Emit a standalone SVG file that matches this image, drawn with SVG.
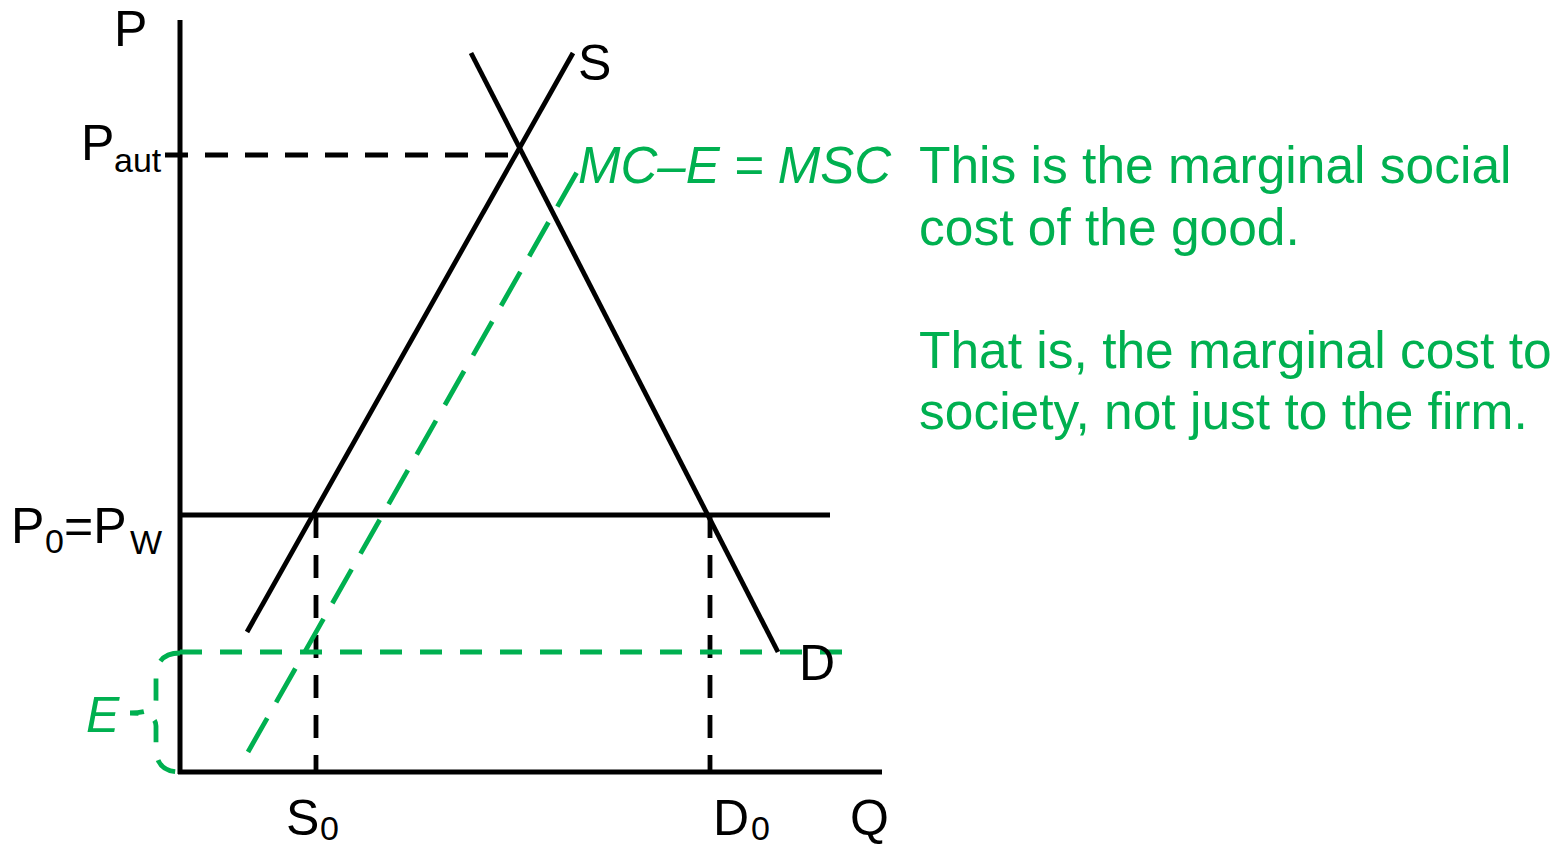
<svg xmlns="http://www.w3.org/2000/svg" width="1553" height="844" viewBox="0 0 1553 844">
<style>
text{font-family:"Liberation Sans",Arial,sans-serif;font-size:50px;fill:#000}
.sub{font-size:34px}
.g{fill:#00B050}
.it{font-style:italic}
.nt{font-size:51.5px}
.ax{stroke:#000;stroke-width:5;fill:none}
.ln{stroke:#000;stroke-width:4.8;fill:none}
.dk{stroke:#000;stroke-width:4.8;fill:none;stroke-dasharray:23 17}
.dg{stroke:#00B050;stroke-width:4.8;fill:none;stroke-dasharray:22 18}
.dgl{stroke:#00B050;stroke-width:4.8;fill:none;stroke-dasharray:39 18}
</style>
<rect width="1553" height="844" fill="#fff"/>
<g id="connectors">
<line id="y-axis" class="ax" x1="180" y1="20" x2="180" y2="774"/>
<line id="x-axis" class="ax" x1="178" y1="772" x2="882" y2="772"/>
<line id="paut-line" class="dk" x1="165" y1="155" x2="519" y2="155"/>
<line id="pw-line" class="ln" x1="182" y1="515" x2="830" y2="515"/>
<line id="s0-line" class="dk" x1="316" y1="515" x2="316" y2="772"/>
<line id="d0-line" class="dk" x1="710" y1="515" x2="710" y2="772"/>
<line id="e-line" class="dg" x1="180" y1="652" x2="842" y2="652"/>
<line id="supply" class="ln" x1="247" y1="632" x2="573" y2="53"/>
<line id="demand" class="ln" x1="471" y1="53" x2="778" y2="652"/>
<line id="msc" class="dgl" x1="248" y1="752" x2="577" y2="172"/>
<path id="brace" class="dg" stroke-dasharray="20 14" d="M180,653 Q156,653 156,678 L156,700 Q156,713 130,713 Q156,713 156,726 L156,748 Q156,772 180,772"/>
</g>
<g id="label-P"><text x="114" y="46">P</text></g>
<g id="label-Paut"><text x="81" y="160">P</text><text class="sub" x="114" y="172">aut</text></g>
<g id="label-P0PW"><text x="11" y="543">P</text><text class="sub" x="45" y="553">0</text><text x="64" y="543">=P</text><text class="sub" x="130" y="554">W</text></g>
<g id="label-S"><text x="578" y="80">S</text></g>
<g id="label-D"><text x="799" y="680">D</text></g>
<g id="label-E"><text class="g it" x="86" y="732">E</text></g>
<g id="label-S0"><text x="286" y="835">S</text><text class="sub" x="320" y="840">0</text></g>
<g id="label-D0"><text x="713" y="835">D</text><text class="sub" x="751" y="840">0</text></g>
<g id="label-Q"><text x="850" y="835">Q</text></g>
<g id="label-MSC"><text class="g it" x="578" y="183" style="font-size:51px">MC–E = MSC</text></g>
<g id="note">
<text class="g nt" x="919" y="183">This is the marginal social</text>
<text class="g nt" x="919" y="245">cost of the good.</text>
<text class="g nt" x="919" y="368">That is, the marginal cost to</text>
<text class="g nt" x="919" y="429">society, not just to the firm.</text>
</g>
</svg>
